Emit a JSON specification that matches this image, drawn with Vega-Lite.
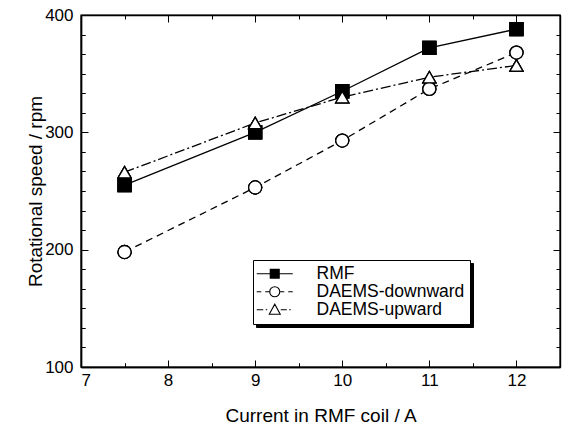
{
  "$schema": "https://vega.github.io/schema/vega-lite/v6.json",
  "autosize": {"type": "none"},
  "width": 479,
  "height": 352,
  "padding": {"left": 81, "top": 15, "right": 4, "bottom": 60},
  "background": "white",
  "config": {
    "view": {"stroke": "black", "strokeWidth": 1.4},
    "font": "Liberation Sans"
  },
  "data": {"values": [
    {"series": "RMF", "current": 7.5, "speed": 255},
    {"series": "RMF", "current": 9, "speed": 300},
    {"series": "RMF", "current": 10, "speed": 335},
    {"series": "RMF", "current": 11, "speed": 372},
    {"series": "RMF", "current": 12, "speed": 388},
    {"series": "DAEMS-downward", "current": 7.5, "speed": 198},
    {"series": "DAEMS-downward", "current": 9, "speed": 253},
    {"series": "DAEMS-downward", "current": 10, "speed": 293},
    {"series": "DAEMS-downward", "current": 11, "speed": 337},
    {"series": "DAEMS-downward", "current": 12, "speed": 368},
    {"series": "DAEMS-upward", "current": 7.5, "speed": 266},
    {"series": "DAEMS-upward", "current": 9, "speed": 308},
    {"series": "DAEMS-upward", "current": 10, "speed": 330},
    {"series": "DAEMS-upward", "current": 11, "speed": 347},
    {"series": "DAEMS-upward", "current": 12, "speed": 357}
  ]},
  "resolve": {
    "scale": {"shape": "independent", "fill": "independent", "color": "independent"},
    "axis": {"x": "independent", "y": "independent"}
  },
  "layer": [
    {
      "mark": {"type": "point", "opacity": 0},
      "encoding": {
        "x": {"field": "current", "type": "quantitative", "scale": {"domain": [7, 12.5], "nice": false, "zero": false}, "axis": null},
        "y": {"field": "speed", "type": "quantitative", "scale": {"domain": [100, 400], "nice": false, "zero": false}, "axis": null},
        "color": {"field": "series", "type": "nominal", "scale": {"domain": ["RMF", "DAEMS-downward", "DAEMS-upward"], "range": ["black", "black", "black"]},
          "legend": {"orient": "none", "legendX": 175, "legendY": 248, "title": null, "zindex": 1, "padding": 5, "rowPadding": -2,
            "symbolSize": 100, "symbolOffset": 8, "labelOffset": 33, "symbolOpacity": 0, "symbolStrokeWidth": 1.1,
            "labelFont": "Liberation Sans", "labelFontSize": 17.5, "labelColor": "black", "fillColor": "black", "strokeColor": "black"}}
      }
    },
    {
      "transform": [{"filter": "datum.series === 'RMF'"}],
      "mark": {"type": "line", "color": "black", "strokeWidth": 1.3},
      "encoding": {
        "x": {"field": "current", "type": "quantitative", "axis": null},
        "y": {"field": "speed", "type": "quantitative", "axis": null}
      }
    },
    {
      "transform": [{"filter": "datum.series === 'DAEMS-downward'"}],
      "mark": {"type": "line", "color": "black", "strokeWidth": 1.3, "strokeDash": [7, 5]},
      "encoding": {
        "x": {"field": "current", "type": "quantitative", "axis": null},
        "y": {"field": "speed", "type": "quantitative", "axis": null}
      }
    },
    {
      "transform": [{"filter": "datum.series === 'DAEMS-upward'"}],
      "mark": {"type": "line", "color": "black", "strokeWidth": 1.3, "strokeDash": [10, 3, 2, 3]},
      "encoding": {
        "x": {"field": "current", "type": "quantitative", "axis": null},
        "y": {"field": "speed", "type": "quantitative", "axis": null}
      }
    },
    {
      "mark": {"type": "point", "filled": true, "opacity": 1, "stroke": "black", "strokeWidth": 1.3, "size": 170},
      "encoding": {
        "x": {"field": "current", "type": "quantitative",
          "axis": {"orient": "bottom", "values": [7, 8, 9, 10, 11, 12], "grid": true, "gridOpacity": 0, "domain": true, "domainColor": "black", "domainWidth": 1.4, "ticks": true, "tickSize": -7, "tickColor": "black",
            "labelFont": "Liberation Sans", "labelFontSize": 17, "labelColor": "black", "labelPadding": 12,
            "title": "Current in RMF coil / A", "titleFont": "Liberation Sans", "titleFontSize": 19, "titleFontWeight": "normal", "titleColor": "black", "titlePadding": 18}},
        "y": {"field": "speed", "type": "quantitative",
          "axis": {"orient": "left", "values": [100, 200, 300, 400], "grid": true, "gridOpacity": 0, "domain": true, "domainColor": "black", "domainWidth": 1.4, "ticks": true, "tickSize": -7, "tickColor": "black",
            "labelFont": "Liberation Sans", "labelFontSize": 17, "labelColor": "black", "labelPadding": 15,
            "title": "Rotational speed / rpm", "titleFont": "Liberation Sans", "titleFontSize": 19, "titleFontWeight": "normal", "titleColor": "black", "titlePadding": -1}},
        "shape": {"field": "series", "type": "nominal", "scale": {"domain": ["RMF", "DAEMS-downward", "DAEMS-upward"], "range": ["square", "circle", "triangle-up"]}, "legend": null},
        "fill": {"field": "series", "type": "nominal", "scale": {"domain": ["RMF", "DAEMS-downward", "DAEMS-upward"], "range": ["black", "white", "white"]}, "legend": null}
      }
    },
    {
      "mark": {"type": "point", "filled": true, "opacity": 1, "stroke": "black", "strokeWidth": 1.3, "size": 170},
      "encoding": {
        "x": {"field": "current", "type": "quantitative",
          "axis": {"orient": "top", "values": [7, 8, 9, 10, 11, 12], "grid": true, "gridOpacity": 0, "domain": true, "domainColor": "black", "domainWidth": 1.4, "labels": false, "title": null, "ticks": true, "tickSize": -7, "tickColor": "black"}},
        "y": {"field": "speed", "type": "quantitative",
          "axis": {"orient": "right", "values": [100, 200, 300, 400], "grid": true, "gridOpacity": 0, "domain": true, "domainColor": "black", "domainWidth": 1.4, "labels": false, "title": null, "ticks": true, "tickSize": -7, "tickColor": "black"}},
        "shape": {"field": "series", "type": "nominal", "scale": {"domain": ["RMF", "DAEMS-downward", "DAEMS-upward"], "range": ["square", "circle", "triangle-up"]}, "legend": null},
        "fill": {"field": "series", "type": "nominal", "scale": {"domain": ["RMF", "DAEMS-downward", "DAEMS-upward"], "range": ["black", "white", "white"]}, "legend": null}
      }
    },
    {
      "mark": {"type": "point", "filled": true, "opacity": 1, "stroke": "black", "strokeWidth": 1.3, "size": 170},
      "encoding": {
        "x": {"field": "current", "type": "quantitative",
          "axis": {"orient": "bottom", "values": [7.5, 8.5, 9.5, 10.5, 11.5], "domain": true, "domainColor": "black", "domainWidth": 1.4, "labels": false, "title": null, "ticks": true, "tickSize": -4, "tickColor": "black",
            "grid": true, "gridColor": "black", "gridOpacity": 1, "gridWidth": 1, "gridDash": [4, 344, 4]}},
        "y": {"field": "speed", "type": "quantitative",
          "axis": {"orient": "left", "values": [116.667, 133.333, 150, 166.667, 183.333, 216.667, 233.333, 250, 266.667, 283.333, 316.667, 333.333, 350, 366.667, 383.333], "domain": true, "domainColor": "black", "domainWidth": 1.4, "labels": false, "title": null, "ticks": true, "tickSize": -4, "tickColor": "black",
            "grid": true, "gridColor": "black", "gridOpacity": 1, "gridWidth": 1, "gridDash": [4, 471, 4]}},
        "shape": {"field": "series", "type": "nominal", "scale": {"domain": ["RMF", "DAEMS-downward", "DAEMS-upward"], "range": ["square", "circle", "triangle-up"]}, "legend": null},
        "fill": {"field": "series", "type": "nominal", "scale": {"domain": ["RMF", "DAEMS-downward", "DAEMS-upward"], "range": ["black", "white", "white"]}, "legend": null}
      }
    },
    {
      "mark": {"type": "point", "filled": false, "color": "black", "opacity": 0},
      "encoding": {
        "x": {"field": "current", "type": "quantitative", "axis": null},
        "y": {"field": "speed", "type": "quantitative", "axis": null},
        "shape": {"field": "series", "type": "nominal", "scale": {"domain": ["RMF", "DAEMS-downward", "DAEMS-upward"], "range": [
          "M-3.6,0H-0.9M0.9,0H3.6M-0.9,-0.9H0.9V0.9H-0.9ZM-0.9,-0.7H0.9M-0.9,-0.5H0.9M-0.9,-0.3H0.9M-0.9,-0.1H0.9M-0.9,0.1H0.9M-0.9,0.3H0.9M-0.9,0.5H0.9M-0.9,0.7H0.9",
          "M-3.6,0H-2.7M-1.9,0H-1.0M1,0A1,1,0,1,1,-1,0A1,1,0,1,1,1,0ZM1,0H1.9M2.7,0H3.6",
          "M-3.6,0H-2.3M-1.8,0H-1.5M1.2,0H2.4M2.9,0H3.2M-1.1,0.9L0,-1.1L1.1,0.9Z"
        ]},
          "legend": {"orient": "none", "legendX": 172, "legendY": 245, "title": null, "zindex": 2, "padding": 5, "rowPadding": -2,
            "symbolSize": 100, "symbolOffset": 8, "labelOffset": 33, "symbolOpacity": 1, "symbolStrokeColor": "black", "symbolStrokeWidth": 1.1,
            "labelFont": "Liberation Sans", "labelFontSize": 17.5, "labelColor": "black", "fillColor": "white", "strokeColor": "black"}}
      }
    }
  ]
}
